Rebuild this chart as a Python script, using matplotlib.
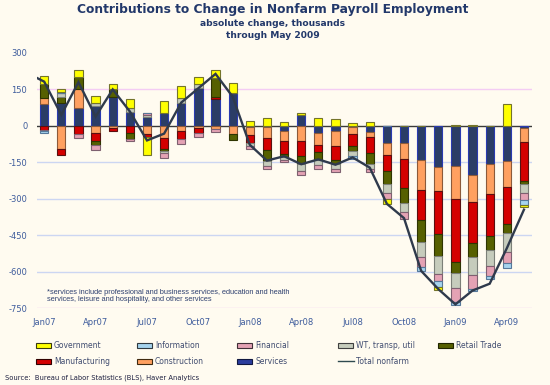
import numpy as np
import matplotlib
matplotlib.use('Agg')
import matplotlib.pyplot as plt
from matplotlib.patches import Rectangle
from matplotlib.lines import Line2D

months = ['Jan07', 'Feb07', 'Mar07', 'Apr07', 'May07', 'Jun07', 'Jul07', 'Aug07', 'Sep07',
          'Oct07', 'Nov07', 'Dec07', 'Jan08', 'Feb08', 'Mar08', 'Apr08', 'May08', 'Jun08',
          'Jul08', 'Aug08', 'Sep08', 'Oct08', 'Nov08', 'Dec08', 'Jan09', 'Feb09', 'Mar09',
          'Apr09', 'May09']

services = [89, 93, 75, 80, 120, 59, 38, 55, 96, 155, 110, 134, -5, -3, -22, 45, -30, -22,
            -5, -25, -71, -71, -142, -169, -166, -203, -157, -143, -10]
construction = [25, -95, 75, -30, -7, 0, -33, -51, -23, -10, -12, -33, -34, -48, -42, -62, -48, -62,
                -30, -22, -48, -65, -124, -100, -134, -110, -123, -109, -57]
manufacturing = [-16, -25, -35, -34, -16, -30, -14, -45, -32, -21, 8, 0, -32, -50, -50, -62, -28, -55,
                 -48, -65, -65, -119, -123, -177, -262, -170, -173, -153, -158]
retail_trade = [58, 27, 53, -14, 30, -23, 0, -7, 0, 0, 80, -27, 0, -43, -15, -34, -35, -17,
                -22, -44, -55, -61, -89, -89, -45, -57, -59, -38, -16]
wt_transp_util = [0, 14, 0, 16, 0, 14, 8, -8, 18, 18, 0, 0, -10, -20, -12, -27, -22, -22,
                  -20, -20, -37, -37, -64, -75, -61, -75, -64, -75, -34]
financial = [-7, 0, -13, -23, 0, -8, 8, -20, -19, -14, -14, 0, -16, -12, -8, -18, -13, -14,
             0, -13, -27, -31, -41, -30, -57, -55, -41, -46, -31]
information = [-5, 5, 0, 0, 0, 0, 0, 0, 0, 0, 0, 0, 0, 0, 0, 0, 0, 0,
               -12, 0, 0, 0, -16, -25, -14, -10, -14, -20, -20]
government = [32, 11, 25, 25, 23, 38, -75, 48, 49, 30, 30, 44, 22, 32, 15, 7, 32, 30,
              11, 17, -18, 0, 0, -11, 5, 5, 0, 89, -10]

# total nonfarm line (starts one month before the bars, clipped at the left edge)
total_months = ['Dec06'] + months
total_nonfarm = [218, 182, 45, 180, 38, 150, 59, -60, -32, 96, 155, 214, 120, -78, -143, -125,
                 -158, -138, -160, -130, -172, -321, -380, -597, -672, -735, -678, -650, -504, -345]

yticks = [300, 150, 0, -150, -300, -450, -600, -750]
xtick_labels = months[::3]

# stacking order from the zero line outward
series = [
    ('Services', services, '#2B3D66', '#2A3AB0'),
    ('Construction', construction, '#FFA060', '#8C5A3A'),
    ('Manufacturing', manufacturing, '#D40000', '#5A1010'),
    ('Retail Trade', retail_trade, '#566000', '#2E3400'),
    ('WT, transp, util', wt_transp_util, '#C6CCBC', '#7C8078'),
    ('Financial', financial, '#E4A2B4', '#7E6070'),
    ('Information', information, '#A6D4EE', '#56789A'),
    ('Government', government, '#FFFF00', '#74742A'),
]

BG = '#FFFBF0'
fig = plt.figure(figsize=(5.5, 3.85), dpi=100)
fig.patch.set_facecolor(BG)
ax = fig.add_axes([37 / 550, 77 / 385, 495 / 550, 255 / 385])
ax.set_facecolor(BG)

n = len(months)
x = np.arange(n)
pos_b = np.zeros(n)
neg_b = np.zeros(n)
for name, vals, fc, ec in series:
    v = np.array(vals, dtype=float)
    b = np.where(v >= 0, pos_b, neg_b)
    ax.bar(x, v, width=0.48, bottom=b, color=fc, edgecolor=ec, linewidth=0.8, zorder=3)
    pos_b += np.clip(v, 0, None)
    neg_b += np.clip(v, None, 0)

xt = np.arange(-1, n)
ax.plot(xt, total_nonfarm, color='#2F3A4C', lw=1.7, zorder=5, solid_joinstyle='miter')

ax.set_xlim(-0.42, 28.47)
ax.set_ylim(-750, 300)

for yv in yticks:
    if yv == 0:
        ax.axhline(0, color='#3A3A3A', lw=1.0, zorder=2)
    elif yv in (150, -750):
        ax.axhline(yv, color='#F4CCF4', lw=1.0, zorder=1)
    elif yv == 300:
        continue
    else:
        ax.axhline(yv, color='#CCD6F2', lw=1.0, zorder=1)

ax.set_yticks(yticks)
ax.set_yticklabels([str(t) for t in yticks])
ax.set_xticks(x[::3])
ax.set_xticklabels(xtick_labels)
ax.tick_params(axis='both', length=0, labelsize=6, colors='#3E5C9C')
ax.tick_params(axis='y', pad=7)
ax.tick_params(axis='x', pad=7)
for s in ax.spines.values():
    s.set_visible(False)

ax.text(0.021, 0.076,
        '*services include professional and business services, education and health\n'
        'services, leisure and hospitality, and other services',
        transform=ax.transAxes, fontsize=5.3, family=['Liberation Sans', 'DejaVu Sans'],
        color='#2E4070', va='top', ha='left', linespacing=1.15)

# titles
fig.text(273 / 550, 1 - 9 / 385, 'Contributions to Change in Nonfarm Payroll Employment',
         ha='center', va='center', fontsize=8.8, fontweight='bold', color='#22386A')
fig.text(273 / 550, 1 - 24 / 385, 'absolute change, thousands',
         ha='center', va='center', fontsize=6.6, fontweight='bold', color='#22386A')
fig.text(273 / 550, 1 - 35 / 385, 'through May 2009',
         ha='center', va='center', fontsize=6.6, fontweight='bold', color='#22386A')

# legend (manual layout: 5 columns, 2 rows)
legend_rows = [
    [('Government', '#FFFF00', '#3A3A10'), ('Information', '#A6D4EE', '#303A40'),
     ('Financial', '#E4A2B4', '#403038'), ('WT, transp, util', '#C6CCBC', '#404040'),
     ('Retail Trade', '#566000', '#202400')],
    [('Manufacturing', '#D40000', '#300000'), ('Construction', '#FFA060', '#402A10'),
     ('Services', '#2B3D9E', '#101840'), ('Total nonfarm', None, '#2F4A50')],
]
col_x = [36, 137, 237, 338, 438]
row_y = [345, 361]
for r, row in enumerate(legend_rows):
    for c, (label, fc, ec) in enumerate(row):
        px = col_x[c]
        py = row_y[r]
        if fc is None:
            fig.add_artist(Line2D([px / 550, (px + 16) / 550], [1 - py / 385, 1 - py / 385],
                                  color=ec, lw=1.0, transform=fig.transFigure))
        else:
            fig.add_artist(Rectangle((px / 550, 1 - (py + 2.5) / 385), 15 / 550, 5 / 385,
                                     facecolor=fc, edgecolor=ec, lw=0.8,
                                     transform=fig.transFigure))
        fig.text((px + 18) / 550, 1 - py / 385, label, ha='left', va='center',
                 fontsize=5.5, color='#404C70')

fig.text(5 / 550, 1 - 378 / 385, 'Source:  Bureau of Labor Statistics (BLS), Haver Analytics',
         ha='left', va='center', fontsize=4.9, color='#1E2040')

fig.savefig('out.png', dpi=100, facecolor=BG)
